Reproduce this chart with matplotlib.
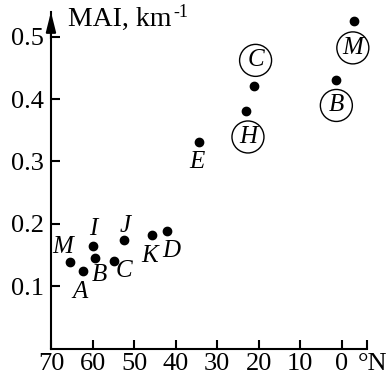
import matplotlib
matplotlib.use("Agg")
import matplotlib.pyplot as plt

# data
latitude = [65.3, 62.2, 60.0, 59.5, 54.9, 52.5, 45.8, 42.0, 34.4, 23.0, 21.1, 1.5, -2.8]
mai = [0.139, 0.124, 0.165, 0.146, 0.140, 0.174, 0.182, 0.189, 0.331, 0.381, 0.421, 0.430, 0.525]
names = ["M", "A", "I", "B", "C", "J", "K", "D", "E", "H", "C", "B", "M"]
circled = [False] * 9 + [True] * 4
x_ticks = [70, 60, 50, 40, 30, 20, 10, 0]
y_ticks = [0.1, 0.2, 0.3, 0.4, 0.5]

# label offsets from each dot, in points
label_offsets = [(-5.3, 10.8), (-2.4, -14.9), (0.9, 12.2), (3.8, -12.7),
                 (7.4, -6.7), (1.4, 10.3), (-1.7, -14.9), (2.9, -14.6),
                 (-1.7, -14.4), (1.2, -18.7), (1.0, 18.5), (0.5, -18.0),
                 (-0.5, -19.2)]

plt.rcParams['font.family'] = ['Liberation Serif', 'DejaVu Serif']

fig = plt.figure(figsize=(3.89, 3.83), dpi=100)
ax = fig.add_axes([0.131, 0.09, 0.812, 0.879])
ax.set_xlim(70, -6)
ax.set_ylim(0, 0.54)

for side in ['top', 'right']:
    ax.spines[side].set_visible(False)
for side in ['left', 'bottom']:
    ax.spines[side].set_linewidth(1.5)

ax.set_xticks(x_ticks + [-6])
ax.set_xticklabels([str(t) for t in x_ticks] + [''])
ax.set_yticks(y_ticks)
ax.set_yticklabels([f"{t:.1f}" for t in y_ticks])
ax.tick_params(direction='in', length=6.5, width=1.5, labelsize=19, pad=5)
ax.tick_params(axis='x', pad=3.5)

# arrow on the y axis
ax.annotate('', xy=(0, 1.0), xytext=(0, 0.92), xycoords='axes fraction',
            arrowprops=dict(arrowstyle='-|>,head_length=1.2,head_width=0.3',
                            color='k', lw=1.5, mutation_scale=10,
                            shrinkA=0, shrinkB=0))

# axis titles
ax.text(0.054, 0.958, 'MAI, km', transform=ax.transAxes,
        fontsize=20, ha='left', va='baseline')
ax.text(0.388, 0.985, '-1', transform=ax.transAxes,
        fontsize=13, ha='left', va='baseline')
ax.annotate('°N', xy=(-6, 0), xytext=(-6.5, -3.5), textcoords='offset points',
            fontsize=19, ha='left', va='top', annotation_clip=False)

ax.plot(latitude, mai, 'o', color='k', ms=6, clip_on=False)

for x, y, name, circ, off in zip(latitude, mai, names, circled, label_offsets):
    bbox = dict(boxstyle='circle,pad=0.2', fc='none', ec='k', lw=1.0) if circ else None
    ax.annotate(name, xy=(x, y), xytext=off, textcoords='offset points',
                fontsize=18, style='italic', ha='center', va='center',
                bbox=bbox, annotation_clip=False)

fig.savefig('out.png', dpi=100)
